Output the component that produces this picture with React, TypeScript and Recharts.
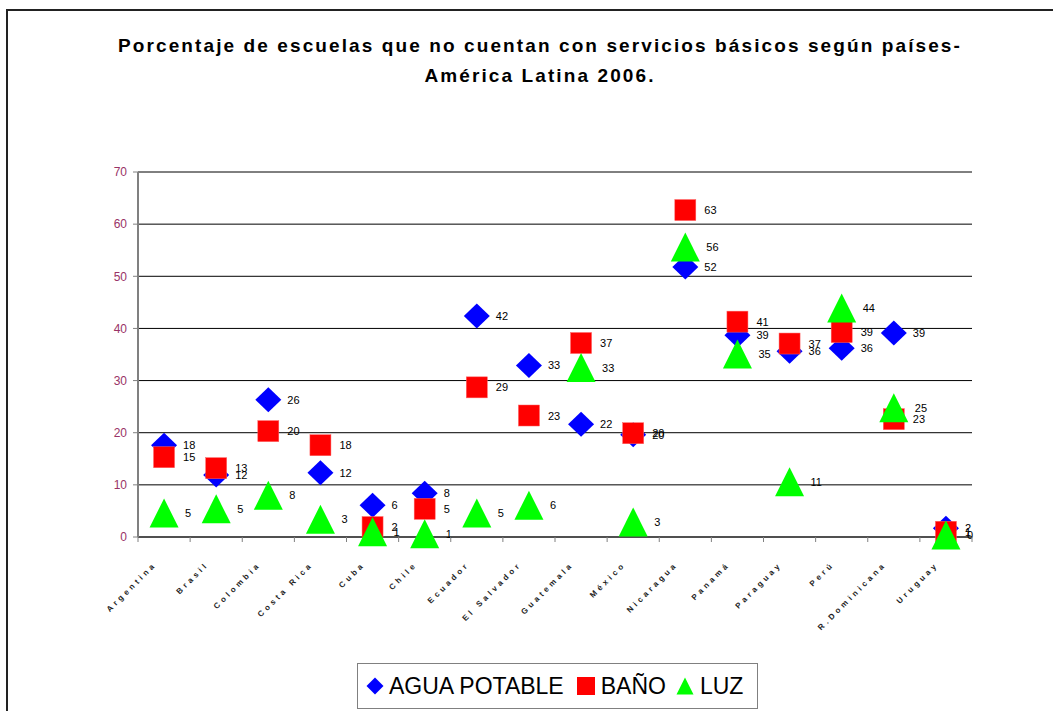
import React from "react";
import { ComposedChart, Scatter, XAxis, YAxis, CartesianGrid } from "recharts";

const paises = [
  "Argentina", "Brasil", "Colombia", "Costa Rica", "Cuba", "Chile", "Ecuador",
  "El Salvador", "Guatemala", "México", "Nicaragua", "Panamá", "Paraguay",
  "Perú", "R.Dominicana", "Uruguay",
];
const aguaPotable = [17.6, 11.9, 26.3, 12.3, 6.1, 8.4, 42.4, 32.9, 21.6, 19.6, 51.8, 38.7, 35.6, 36.2, 39.1, 1.7];
const bano = [15.3, 13.2, 20.3, 17.6, 1.9, 5.4, 28.7, 23.3, 37.2, 19.9, 62.7, 41.3, 37.1, 39.3, 22.6, 1.0];
const luz = [4.6, 5.4, 8.0, 3.4, 1.0, 0.6, 4.6, 6.1, 32.5, 2.9, 55.6, 35.1, 10.6, 43.9, 24.8, 0.4];
const yTicks = [0, 10, 20, 30, 40, 50, 60, 70];

const data = paises.map((p, i) => ({ pais: p, agua: aguaPotable[i], bano: bano[i], luz: luz[i] }));

const FONT = "Arial, 'Liberation Sans', sans-serif";
const HALF_BAND = 26.06;

const label = (cx: number, cy: number, v: number) => (
  <text x={cx + 19} y={cy + 4} fontSize={11} fontFamily={FONT} fill="#000">
    {Math.round(v)}
  </text>
);

const DiamondShape = (props: any) => {
  const { cx, cy, payload } = props;
  return (
    <g>
      <polygon points={`${cx},${cy - 12.5} ${cx + 13},${cy} ${cx},${cy + 12.5} ${cx - 13},${cy}`} fill="#0000ff" />
      {label(cx, cy, payload.agua)}
    </g>
  );
};
const SquareShape = (props: any) => {
  const { cx, cy, payload } = props;
  return (
    <g>
      <rect x={cx - 10.5} y={cy - 10.5} width={21} height={21} fill="#ff0000" stroke="#ff6060" strokeWidth={0.5} />
      {label(cx, cy, payload.bano)}
    </g>
  );
};
const TriangleShape = (props: any) => {
  const { cx, cy, payload } = props;
  return (
    <g>
      <polygon points={`${cx},${cy - 14.5} ${cx + 14.5},${cy + 14.5} ${cx - 14.5},${cy + 14.5}`} fill="#00ff00" />
      {label(cx + 2, cy, payload.luz)}
    </g>
  );
};

const XTick = (props: any) => {
  const { x, y, payload, index, visibleTicksCount } = props;
  const half = payload && payload.offset > 0 ? payload.offset : HALF_BAND;
  const last = index === (visibleTicksCount ?? paises.length) - 1;
  return (
    <g>
      <line x1={x - half} y1={y} x2={x - half} y2={y + 5} stroke="#808080" />
      {last && <line x1={x + half} y1={y} x2={x + half} y2={y + 5} stroke="#808080" />}
      <text
        x={x - 7}
        y={y + 28}
        textAnchor="end"
        fontSize={8}
        fontWeight="bold"
        letterSpacing={3.3}
        fontFamily={FONT}
        fill="#222"
        transform={`rotate(-45, ${x - 7}, ${y + 28})`}
      >
        {payload.value}
      </text>
    </g>
  );
};

const LegendDiamond = () => (
  <svg width={18} height={18} style={{ display: "block" }}>
    <polygon points="9,0.5 17.5,9 9,17.5 0.5,9" fill="#0000ff" />
  </svg>
);
const LegendSquare = () => (
  <svg width={18} height={18} style={{ display: "block" }}>
    <rect x={0} y={0} width={18} height={18} fill="#ff0000" />
  </svg>
);
const LegendTriangle = () => (
  <svg width={18} height={18} style={{ display: "block" }}>
    <polygon points="9,0.5 17.5,17.5 0.5,17.5" fill="#00ff00" />
  </svg>
);

export default function App() {
  return (
    <div style={{ position: "absolute", left: 0, top: 0, width: 1053, height: 711, overflow: "hidden", background: "#fff" }}>
      <div
        style={{
          position: "absolute", left: 6, top: 9, width: 1200, height: 900,
          borderLeft: "2px solid #222", borderTop: "2px solid #222",
        }}
      />
      <div
        style={{
          position: "absolute", left: 0, top: 31, width: 1080, textAlign: "center",
          fontFamily: FONT, fontWeight: "bold", fontSize: 19, lineHeight: "30px",
          letterSpacing: 2.1, color: "#000",
        }}
      >
        <div>Porcentaje de escuelas que no cuentan con servicios básicos según países-</div>
        <div>América Latina 2006.</div>
      </div>
      <div style={{ position: "absolute", left: 0, top: 0 }}>
        <ComposedChart width={1053} height={711} data={data} margin={{ top: 172, right: 81, bottom: 94, left: 78 }}>
          <CartesianGrid vertical={false} stroke="#000" strokeWidth={1} />
          <XAxis
            dataKey="pais"
            type="category"
            height={80}
            interval={0}
            padding={{ left: HALF_BAND, right: HALF_BAND }}
            tickSize={0}
            tickMargin={0}
            tickLine={false}
            axisLine={{ stroke: "#404040", strokeWidth: 1.5 }}
            tick={<XTick />}
          />
          <YAxis
            type="number"
            domain={[0, 70]}
            ticks={yTicks}
            width={60}
            interval={0}
            tickSize={5}
            tickMargin={6}
            axisLine={{ stroke: "#808080", strokeWidth: 2 }}
            tickLine={{ stroke: "#808080" }}
            tick={{ fill: "#993366", fontSize: 12, fontFamily: FONT }}
          />
          <Scatter dataKey="agua" isAnimationActive={false} shape={<DiamondShape />} />
          <Scatter dataKey="bano" isAnimationActive={false} shape={<SquareShape />} />
          <Scatter dataKey="luz" isAnimationActive={false} shape={<TriangleShape />} />
        </ComposedChart>
      </div>
      <div
        style={{
          position: "absolute", left: 357, top: 663, width: 401, height: 46, boxSizing: "border-box",
          border: "1px solid #808080", display: "flex", alignItems: "center", paddingLeft: 8,
          fontFamily: FONT, fontSize: 23, color: "#000",
        }}
      >
        <LegendDiamond />
        <span style={{ marginLeft: 5, marginRight: 13 }}>AGUA POTABLE</span>
        <LegendSquare />
        <span style={{ marginLeft: 6, marginRight: 10 }}>BAÑO</span>
        <LegendTriangle />
        <span style={{ marginLeft: 6 }}>LUZ</span>
      </div>
    </div>
  );
}
